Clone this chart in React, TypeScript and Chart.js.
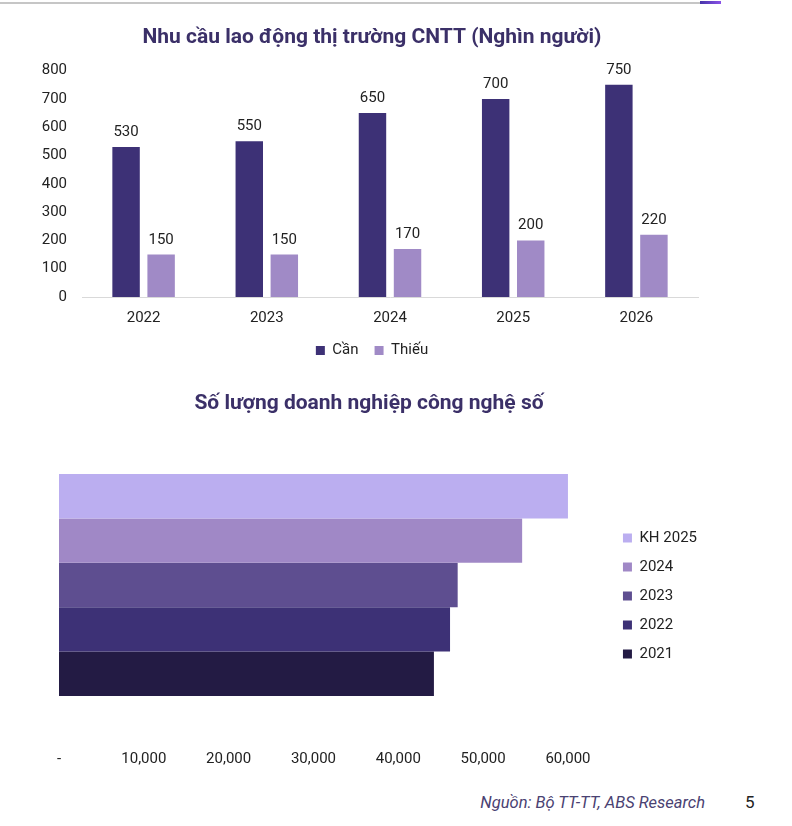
import React, { useEffect, useRef } from 'react';
import { Chart, registerables } from 'chart.js';

Chart.register(...registerables);

const FONT = 'Roboto, "Noto Sans", "DejaVu Sans", sans-serif';

// Chart 1: IT labour demand (thousand people)
const title1 = 'Nhu cầu lao động thị trường CNTT (Nghìn người)';
const years1 = ['2022', '2023', '2024', '2025', '2026'];
const seriesNames1 = ['Cần', 'Thiếu'];
const canValues = [530, 550, 650, 700, 750];
const thieuValues = [150, 150, 170, 200, 220];
const colors1 = ['#3d3176', '#a08ac6'];
const yMax1 = 800;
const yStep1 = 100;

// Chart 2: number of digital technology enterprises
const title2 = 'Số lượng doanh nghiệp công nghệ số';
const seriesNames2 = ['KH 2025', '2024', '2023', '2022', '2021'];
const enterpriseValues = [60000, 54600, 47000, 46100, 44200];
const colors2 = ['#bbaef0', '#a088c6', '#5e4e90', '#3d3176', '#231b44'];
const xMax2 = 60000;
const xStep2 = 10000;

const sourceText = 'Nguồn: Bộ TT-TT, ABS Research';
const pageNumber = '5';

const TEXT = '#222222';
const TITLE = '#3b3068';

const valueLabels = {
  id: 'valueLabels',
  afterDatasetsDraw(chart: any) {
    const ctx = chart.ctx;
    ctx.save();
    ctx.font = `15px ${FONT}`;
    ctx.fillStyle = TEXT;
    ctx.textAlign = 'center';
    ctx.textBaseline = 'alphabetic';
    chart.data.datasets.forEach((ds: any, di: number) => {
      const meta = chart.getDatasetMeta(di);
      meta.data.forEach((bar: any, i: number) => {
        ctx.fillText(String(ds.data[i]), bar.x, bar.y - 11);
      });
    });
    ctx.restore();
  },
};

function LabourChart() {
  const ref = useRef<HTMLCanvasElement>(null);
  useEffect(() => {
    if (!ref.current) return;
    const chart = new Chart(ref.current, {
      type: 'bar',
      data: {
        labels: years1,
        datasets: [
          { label: seriesNames1[0], data: canValues, backgroundColor: colors1[0], borderWidth: 0, categoryPercentage: 0.569, barPercentage: 0.783 },
          { label: seriesNames1[1], data: thieuValues, backgroundColor: colors1[1], borderWidth: 0, categoryPercentage: 0.569, barPercentage: 0.783 },
        ],
      },
      options: {
        animation: false,
        responsive: false,
        maintainAspectRatio: false,
        layout: { padding: { top: 0, bottom: 2, left: 0, right: 0 } },
        plugins: {
          title: { display: true, text: title1, color: TITLE, font: { family: FONT, size: 21, weight: 'bold' }, padding: { top: 25.4, bottom: 20 } },
          legend: { position: 'bottom', labels: { boxWidth: 9, boxHeight: 9, padding: 16, color: TEXT, font: { family: FONT, size: 15 } } },
          tooltip: { enabled: false },
        },
        scales: {
          x: {
            grid: { display: false, drawTicks: false },
            border: { display: true, color: '#d9d9d9', width: 1 },
            ticks: { padding: 12, color: TEXT, font: { family: FONT, size: 15 } },
            afterFit: (s: any) => { s.height = 30; },
          },
          y: {
            min: 0,
            max: yMax1,
            grid: { display: false, drawTicks: false },
            border: { display: false },
            ticks: { stepSize: yStep1, padding: 15, color: TEXT, font: { family: FONT, size: 15 } },
            afterFit: (s: any) => { s.width = 82; },
          },
          yR: {
            type: 'linear',
            position: 'right',
            display: true,
            grid: { display: false, drawTicks: false },
            border: { display: false },
            ticks: { display: false },
            afterFit: (s: any) => { s.width = 46; },
          },
        },
      } as any,
      plugins: [valueLabels],
    });
    return () => chart.destroy();
  }, []);
  return <canvas ref={ref} width={744} height={370} style={{ position: 'absolute', left: 0, top: 0 }} />;
}

function EnterpriseChart() {
  const ref = useRef<HTMLCanvasElement>(null);
  useEffect(() => {
    if (!ref.current) return;
    const chart = new Chart(ref.current, {
      type: 'bar',
      data: {
        labels: [''],
        datasets: seriesNames2.map((name, i) => ({
          label: name,
          data: [enterpriseValues[i]],
          backgroundColor: colors2[i],
          borderWidth: 0,
          categoryPercentage: 0.792,
          barPercentage: 1,
        })),
      },
      options: {
        indexAxis: 'y',
        animation: false,
        responsive: false,
        maintainAspectRatio: false,
        layout: { padding: { top: 0, bottom: 2, left: 0, right: 0 } },
        plugins: {
          title: { display: true, text: title2, color: TITLE, font: { family: FONT, size: 21, weight: 'bold' }, padding: { top: 21.4, bottom: 28.4 } },
          legend: {
            position: 'right',
            fullSize: false,
            title: { display: true, text: ' ', padding: { top: 5, bottom: 5 }, font: { family: FONT, size: 10 } },
            labels: { boxWidth: 9, boxHeight: 9, padding: 14, color: TEXT, font: { family: FONT, size: 15 } },
          },
          tooltip: { enabled: false },
        },
        scales: {
          x: {
            min: 0,
            max: xMax2,
            grid: { display: false, drawTicks: false },
            border: { display: false },
            ticks: {
              stepSize: xStep2,
              padding: 25,
              color: TEXT,
              font: { family: FONT, size: 15 },
              callback: (v: any) => (Number(v) === 0 ? '-' : Number(v).toLocaleString('en-US')),
            },
            afterFit: (s: any) => { s.height = 43; },
          },
          y: {
            display: true,
            grid: { display: false, drawTicks: false },
            border: { display: false },
            ticks: { display: false },
            afterFit: (s: any) => { s.width = 28; },
          },
          yR: {
            type: 'linear',
            position: 'right',
            display: true,
            grid: { display: false, drawTicks: false },
            border: { display: false },
            ticks: { display: false },
            afterFit: (s: any) => { s.width = 41; },
          },
        },
      } as any,
    });
    return () => chart.destroy();
  }, []);
  return <canvas ref={ref} width={676} height={400} style={{ position: 'absolute', left: 31, top: 370 }} />;
}

export default function App() {
  return (
    <div style={{ position: 'absolute', left: 0, top: 0, width: 792, height: 826, background: '#ffffff', overflow: 'hidden', fontFamily: FONT }}>
      <div style={{ position: 'absolute', left: 0, top: 2, width: 700, height: 2, background: '#c6c6c6' }} />
      <div style={{ position: 'absolute', left: 700, top: 1, width: 21, height: 3, background: 'linear-gradient(90deg, #4634a8, #8a52e8)' }} />
      <LabourChart />
      <EnterpriseChart />
      <div style={{ position: 'absolute', right: 87, top: 793, fontSize: 16.5, fontStyle: 'italic', color: '#4a4272', whiteSpace: 'nowrap' }}>{sourceText}</div>
      <div style={{ position: 'absolute', left: 745, top: 792, fontSize: 17, color: TEXT }}>{pageNumber}</div>
    </div>
  );
}
